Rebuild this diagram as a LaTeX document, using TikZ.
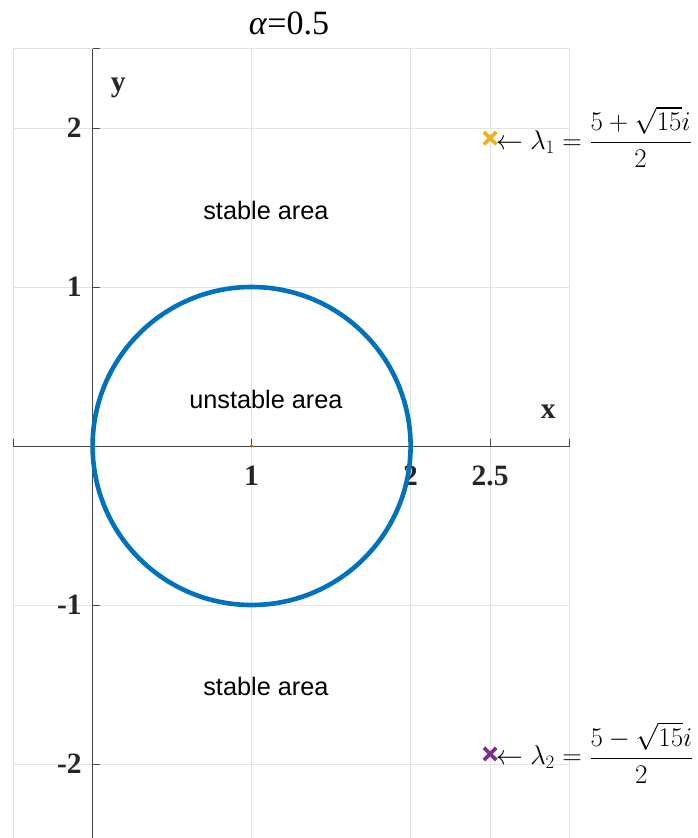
\documentclass[tikz,border=0pt]{standalone}
\usepackage{fix-cm}
\usepackage{amsmath}
\usepackage[no-math]{fontspec}
\setmainfont{Liberation Serif}
\setsansfont{Liberation Sans}
\usetikzlibrary{shapes.misc}
\definecolor{gridc}{HTML}{E3E3E3}
\definecolor{axc}{HTML}{262626}
\definecolor{circc}{HTML}{0072BD}
\definecolor{ctrc}{HTML}{D95319}
\definecolor{lamone}{HTML}{EDB120}
\definecolor{lamtwo}{HTML}{7E2F8E}
\tikzset{
  gridline/.style={draw=gridc, line width=1pt},
  axisline/.style={draw=axc!85, line width=1pt},
  ticklab/.style={font=\fontsize{29.5}{32}\bfseries\selectfont, text=axc, inner sep=0pt},
  arealab/.style={font=\fontsize{25.3}{29}\sffamily\selectfont, inner sep=0pt},
  lamlab/.style={font=\fontsize{27}{32}\selectfont, inner sep=0pt, anchor=base west},
  marker/.style={cross out, draw=#1, line width=3.8pt, minimum size=8.5pt, inner sep=0pt},
}
\begin{document}
\begin{tikzpicture}[x=1pt,y=-1pt]
\useasboundingbox (0,0) rectangle (697,838);
\node[font=\fontsize{34}{38}\selectfont, inner sep=0pt] (title) at (289,23) {\textit{α}=0.5};
\begin{scope}[shift={(92.6,446)},x=159pt,y=159pt]
  % grid
  \foreach \gx in {-0.5,1,2,2.5,3} \draw[gridline] (\gx,2.5) -- (\gx,-2.7);
  \foreach \gy in {2.5,2,1,-1,-2} \draw[gridline] (-0.5,\gy) -- (3,\gy);
  % axes
  \draw[axisline] (-0.5,0) -- (3,0);
  \draw[axisline] (0,2.5) -- (0,-2.7);
  \foreach \gx in {-0.5,1,2,2.5,3} \draw[axisline] (\gx,0) -- ++(0pt,7pt);
  \foreach \gy in {2.5,2,1,-1,-2} \draw[axisline] (0,\gy) -- ++(7pt,0pt);
  % tick labels
  \node[ticklab] (xt1) at (1,-0.19) {1};
  \node[ticklab] (xt2) at (2,-0.19) {2};
  \node[ticklab] (xt25) at (2.5,-0.19) {2.5};
  \node[ticklab, anchor=east] (yt2) at (-0.068,2) {2};
  \node[ticklab, anchor=east] (yt1) at (-0.068,1) {1};
  \node[ticklab, anchor=east] (ytm1) at (-0.068,-1) {-1};
  \node[ticklab, anchor=east] (ytm2) at (-0.068,-2) {-2};
  \node[ticklab] (ylab) at (0.162,2.255) {y};
  \node[ticklab] (xlab) at (2.866,0.215) {x};
  % area labels
  \node[arealab] (s1) at (1.09,1.48) {stable area};
  \node[arealab] (u1) at (1.09,0.29) {unstable area};
  \node[arealab] (s2) at (1.09,-1.515) {stable area};
  % circle
  \draw[draw=circc, line width=4.6pt] (1,0) circle[radius=1];
  \node[circle, fill=ctrc, inner sep=0pt, minimum size=3.5pt] (ctr) at (1,0) {};
  % eigenvalues
  \node[marker=lamone] (m1) at (2.5,1.9365) {};
  \node[marker=lamtwo] (m2) at (2.5,-1.9365) {};
  \node[lamlab] (t1) at ([xshift=5.5pt,yshift=-11pt]m1.center) {$\leftarrow \lambda_1=\dfrac{5+\sqrt{15}i}{2}$};
  \node[lamlab] (t2) at ([xshift=5.5pt,yshift=-11pt]m2.center) {$\leftarrow \lambda_2=\dfrac{5-\sqrt{15}i}{2}$};
\end{scope}
\end{tikzpicture}
\end{document}
